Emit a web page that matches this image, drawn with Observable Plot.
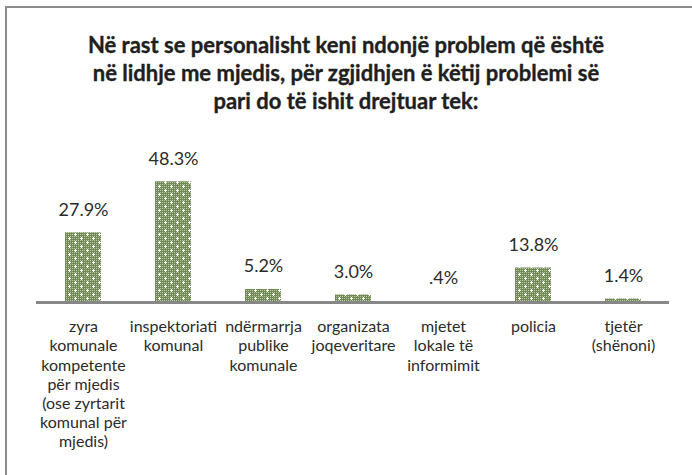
<!DOCTYPE html>
<html>
<head>
<meta charset="utf-8">
<script src="https://cdn.jsdelivr.net/npm/d3@7"></script>
<script src="https://cdn.jsdelivr.net/npm/@observablehq/plot@0.6"></script>
<style>
  html, body { margin: 0; padding: 0; background: #fff; }
  #wrap { position: relative; width: 692px; height: 475px; overflow: hidden; background: #fff; }
  #frame { position: absolute; left: 5px; top: 6px; width: 700px; height: 480px;
           border-top: 2px solid #8c8c8c; border-left: 2px solid #8c8c8c; box-sizing: border-box; }
  #title { position: absolute; left: 0; top: 0; width: 692px; height: 120px; box-sizing: border-box;
           padding-top: 31px; text-align: center; font-family: Lato, "Noto Sans", sans-serif;
           font-weight: bold; font-size: 22px; line-height: 28px; color: #1f1f1f; white-space: nowrap;
           -webkit-text-stroke: 0.35px #1f1f1f; }
  #chart { position: absolute; left: 0; top: 120px; }
</style>
</head>
<body>
<div id="wrap">
  <div id="frame"></div>
  <div id="title">Në rast se personalisht keni ndonjë problem që është<br>në lidhje me mjedis, për zgjidhjen ë këtij problemi së<br>pari do të ishit drejtuar tek:</div>
  <div id="chart"></div>
</div>
<script>
const categories = [
  "zyra komunale kompetente për mjedis (ose zyrtarit komunal për mjedis)",
  "inspektoriati komunal",
  "ndërmarrja publike komunale",
  "organizata joqeveritare",
  "mjetet lokale të informimit",
  "policia",
  "tjetër (shënoni)"
];
const tickLabels = [
  "zyra\nkomunale\nkompetente\npër mjedis\n(ose zyrtarit\nkomunal për\nmjedis)",
  "inspektoriati\nkomunal",
  "ndërmarrja\npublike\nkomunale",
  "organizata\njoqeveritare",
  "mjetet\nlokale të\ninformimit",
  "policia",
  "tjetër\n(shënoni)"
];
const values = [27.9, 48.3, 5.2, 3.0, 0.4, 13.8, 1.4];

const data = categories.map((c, i) => ({category: c, value: values[i]}));
const fmt = v => (v < 1 ? v.toFixed(1).slice(1) : v.toFixed(1)) + "%";
const labelOf = c => tickLabels[categories.indexOf(c)];

const chart = Plot.plot({
  width: 692,
  height: 355,
  marginLeft: 36,
  marginRight: 23,
  marginTop: 32,
  marginBottom: 173,
  style: {fontFamily: "Lato, 'Noto Sans', sans-serif", color: "#333", background: "transparent"},
  x: {domain: categories, paddingInner: 0.6, paddingOuter: 0.3, align: 0.5},
  y: {domain: [0, 60], axis: null},
  marks: [
    Plot.barY(data, {x: "category", y: "value", fill: "url(#greenGrid)"}),
    Plot.ruleY([0], {stroke: "#878787", strokeWidth: 3}),
    Plot.text(data, {x: "category", y: "value", text: d => fmt(d.value), dy: -23,
      fontSize: 18, fill: "#2b2b2b"}),
    Plot.axisX({tickSize: 0, tickPadding: 16, fontSize: 16, lineHeight: 1.2,
      tickFormat: labelOf, label: null, fill: "#2b2b2b"})
  ]
});

const svg = d3.select(chart);
const defs = svg.insert("defs", ":first-child");
const pat = defs.append("pattern").attr("id", "greenGrid")
  .attr("patternUnits", "userSpaceOnUse").attr("width", 12).attr("height", 8);
pat.append("rect").attr("width", 12).attr("height", 8).attr("fill", "#728b55");
for (let x = 0; x < 12; x += 2) {
  for (let y = 0; y < 8; y += 2) {
    pat.append("rect").attr("x", x).attr("y", y).attr("width", 1).attr("height", 1).attr("fill", "#b9c8a4");
  }
}
[[3, 2], [9, 6]].forEach(([cx, cy]) => {
  pat.append("rect").attr("x", cx - 1).attr("y", cy).attr("width", 3).attr("height", 1).attr("fill", "#ffffff");
  pat.append("rect").attr("x", cx).attr("y", cy - 1).attr("width", 1).attr("height", 3).attr("fill", "#ffffff");
});

document.getElementById("chart").appendChild(chart);
</script>
</body>
</html>
